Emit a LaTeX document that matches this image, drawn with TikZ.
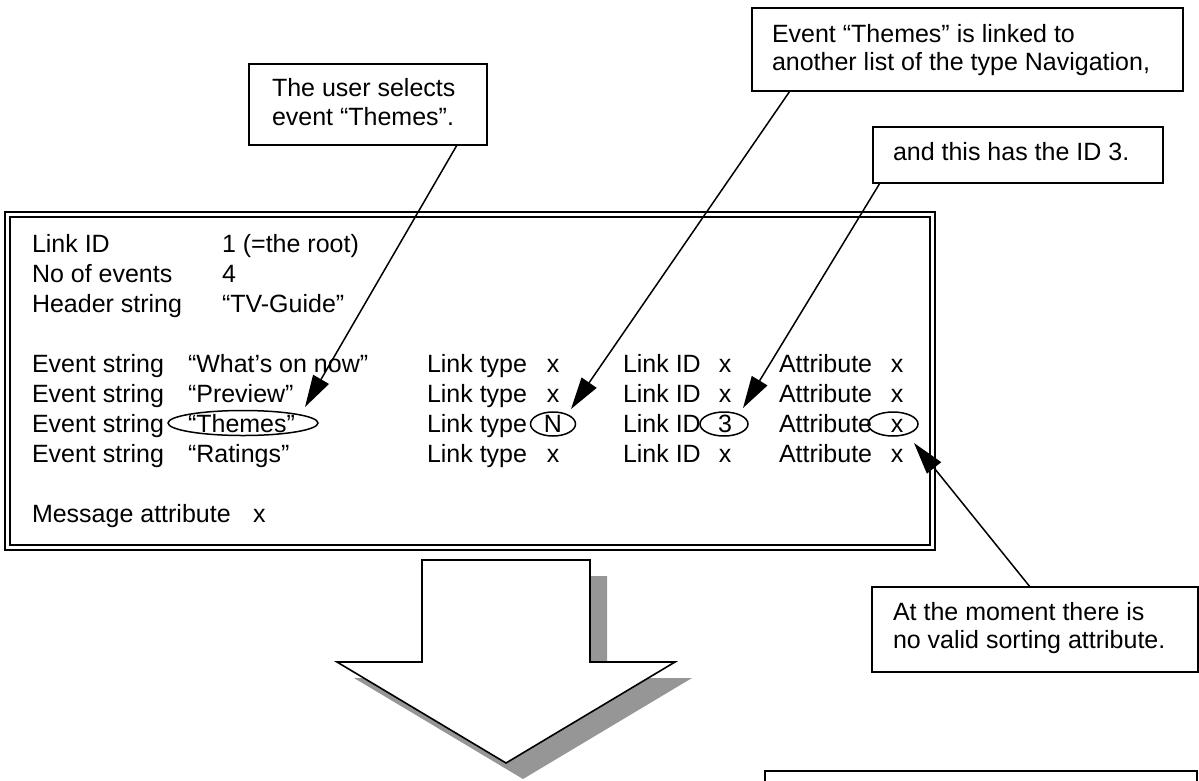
\documentclass[tikz,border=0pt]{standalone}
\usepackage{fontspec}
\setmainfont{Liberation Sans}
\usetikzlibrary{arrows.meta,calc,shapes.geometric}
\definecolor{shadowgray}{HTML}{969696}
\begin{document}
\begin{tikzpicture}[x=1pt,y=-1pt,
  every node/.style={font=\fontsize{25}{29}\selectfont, inner sep=0pt, outer sep=0pt},
  txt/.style={anchor=base west},
  ctxt/.style={anchor=base},
  cbox/.style={draw, line width=1.6pt, fill=white, anchor=north west},
  ring/.style={draw, ellipse, line width=1.5pt},
  conn/.style={line width=1.5pt, -{Triangle[length=32pt,width=18pt]}},
  bigarrow/.style={draw, line width=1.6pt, fill=white, line join=miter}]
\useasboundingbox (0,0) rectangle (1199,780);

% main double-bordered box
\node[draw, line width=1.8pt, minimum width=930, minimum height=338, anchor=north west] (mainouter) at (5,212) {};
\node[draw, line width=1.4pt, minimum width=920, minimum height=328, anchor=north west] (maininner) at (10,217) {};

% header rows
\node[txt] (l1) at (32,252) {Link ID};
\node[txt] (v1) at (222,252) {1 (=the root)};
\node[txt] (l2) at (32,282) {No of events};
\node[txt] (v2) at (222,282) {4};
\node[txt] (l3) at (32,312) {Header string};
\node[txt] (v3) at (222,312) {“TV-Guide”};

% event rows
\foreach \y/\s/\lt/\li/\at [count=\i] in {372/“What’s on now”/x/x/x, 402/“Preview”/x/x/x, 432/“Themes”/N/3/x, 462/“Ratings”/x/x/x}{
  \node[txt] (es\i) at (32,\y) {Event string};
  \node[txt] (ev\i) at (188,\y) {\s};
  \node[txt] (lt\i) at (427,\y) {Link type};
  \node[ctxt] (ltv\i) at (553,\y) {\lt};
  \node[txt] (li\i) at (623,\y) {Link ID};
  \node[ctxt] (liv\i) at (725,\y) {\li};
  \node[txt] (at\i) at (779,\y) {Attribute};
  \node[ctxt] (atv\i) at (897,\y) {\at};
}
\node[txt] (ma) at (32,522) {Message attribute};
\node[txt] (mav) at (253,522) {x};

% rings
\node[ring, minimum width=150, minimum height=25] (ringthemes) at (243,423) {};
\node[ring, minimum width=45, minimum height=24] (ringN) at (553,424) {};
\node[ring, minimum width=48, minimum height=24] (ring3) at (724,424) {};
\node[ring, minimum width=50, minimum height=24] (ringx) at (893,424) {};

% big block arrow with shadow
\fill[shadowgray] (439,576) -- (607,576) -- (607,678) -- (692,678) -- (523,779) -- (354,678) -- (439,678) -- cycle;
\draw[bigarrow] (422,560) -- (590,560) -- (590,662) -- (675,662) -- (506,763) -- (337,662) -- (422,662) -- cycle;

% callout boxes
\node[cbox, minimum width=238, minimum height=81] (userbox) at (249,64) {};
\node[txt] (ut1) at (272,96) {The user selects};
\node[txt] (ut2) at (272,125) {event “Themes”.};

\node[cbox, minimum width=431, minimum height=83] (linkbox) at (752,8) {};
\node[txt] (lk1) at (772,42) {Event “Themes” is linked to};
\node[txt] (lk2) at (772,70) {another list of the type Navigation,};

\node[cbox, minimum width=290, minimum height=56] (idbox) at (873,127) {};
\node[txt] (id1) at (893,160) {and this has the ID 3.};

\node[cbox, minimum width=326, minimum height=85] (attrbox) at (872,587) {};
\node[txt] (ab1) at (893,620) {At the moment there is};
\node[txt] (ab2) at (893,648) {no valid sorting attribute.};

\node[cbox, minimum width=432, minimum height=40] (bottombox) at (765,771) {};

% connector tips
\coordinate (tipuser) at (305,407);
\coordinate (tiplink) at (571,409);
\coordinate (tipid) at (743,408);
\coordinate (tipattr) at (914,443);

\draw[conn] ($(userbox.south west)!0.874!(userbox.south east)$) -- (tipuser);
\draw[conn] ($(linkbox.south west)!0.088!(linkbox.south east)$) -- (tiplink);
\draw[conn] ($(idbox.south west)!0.024!(idbox.south east)$) -- (tipid);
\draw[conn] ($(attrbox.north west)!0.485!(attrbox.north east)$) -- (tipattr);
\end{tikzpicture}
\end{document}
